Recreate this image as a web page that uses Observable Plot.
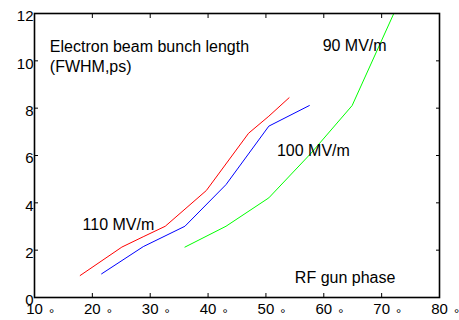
<!DOCTYPE html>
<html>
<head>
<meta charset="utf-8">
<script src="https://cdn.jsdelivr.net/npm/d3@7"></script>
<script src="https://cdn.jsdelivr.net/npm/@observablehq/plot@0.6"></script>
<style>
  html, body { margin: 0; padding: 0; background: #fff; }
  svg { display: block; }
</style>
</head>
<body>
<div id="chart"></div>
<script>
// Data
const redX   = [17.9, 25.1, 28.9, 32.6, 39.7, 47.0, 50.5, 54.0];
const redY   = [0.93, 2.13, 2.58, 3.01, 4.52, 6.94, 7.66, 8.44];
const blueX  = [21.6, 28.8, 36.0, 43.1, 50.5, 57.5];
const blueY  = [1.00, 2.15, 3.01, 4.77, 7.24, 8.11];
const greenX = [36.0, 43.1, 50.5, 57.7, 64.9, 72.1];
const greenY = [2.13, 3.01, 4.21, 6.07, 8.11, 12.0];

const xTicks = [10, 20, 30, 40, 50, 60, 70, 80];
const yTicks = [0, 2, 4, 6, 8, 10, 12];

const annotations = [
  {x: 12.65, y: 10.60, text: "Electron beam bunch length"},
  {x: 12.65, y: 9.76, text: "(FWHM,ps)"},
  {x: 59.8, y: 10.65, text: "90 MV/m"},
  {x: 51.9, y: 6.21, text: "100 MV/m"},
  {x: 18.3, y: 3.07, text: "110 MV/m"},
  {x: 55.0, y: 0.82, text: "RF gun phase"}
];

const toPts = (xs, ys) => xs.map((x, i) => ({x, y: ys[i]}));
const red = toPts(redX, redY);
const blue = toPts(blueX, blueY);
const green = toPts(greenX, greenY);

const chart = Plot.plot({
  width: 459,
  height: 320,
  marginLeft: 34,
  marginRight: 20,
  marginTop: 13,
  marginBottom: 23,
  style: {fontFamily: "'Liberation Sans', Arial, sans-serif", background: "#fff", color: "#000"},
  x: {domain: [10, 80]},
  y: {domain: [0, 12]},
  marks: [
    Plot.line(red, {x: "x", y: "y", stroke: "#ff0000", strokeWidth: 1, clip: true}),
    Plot.line(blue, {x: "x", y: "y", stroke: "#0000ff", strokeWidth: 1, clip: true}),
    Plot.line(green, {x: "x", y: "y", stroke: "#00ff00", strokeWidth: 1, clip: true}),
    Plot.axisX({anchor: "bottom", ticks: xTicks, tickSize: -4, tickFormat: () => "", label: null, stroke: "#000"}),
    Plot.axisX({anchor: "top", ticks: xTicks, tickSize: -4, tickFormat: () => "", label: null, stroke: "#000"}),
    Plot.axisY({anchor: "left", ticks: yTicks, tickSize: -4, tickFormat: () => "", label: null, stroke: "#000"}),
    Plot.axisY({anchor: "right", ticks: yTicks, tickSize: -4, tickFormat: () => "", label: null, stroke: "#000"}),
    Plot.frame({stroke: "#000", strokeWidth: 1.6}),
    Plot.text(xTicks, {x: d => d, frameAnchor: "bottom", dy: 16, text: d => String(d), fontSize: 15, fill: "#000"}),
    Plot.text(xTicks, {x: d => d, frameAnchor: "bottom", dx: 17, dy: 20, text: () => "°", fontSize: 13, fill: "#000"}),
    Plot.text(yTicks, {y: d => d, frameAnchor: "left", dx: -1, dy: 3, textAnchor: "end", text: d => String(d), fontSize: 15, fill: "#000"}),
    Plot.text(annotations, {x: "x", y: "y", text: "text", textAnchor: "start", lineAnchor: "middle", fontSize: 16, fill: "#000"})
  ]
});
document.getElementById("chart").appendChild(chart);
</script>
</body>
</html>
